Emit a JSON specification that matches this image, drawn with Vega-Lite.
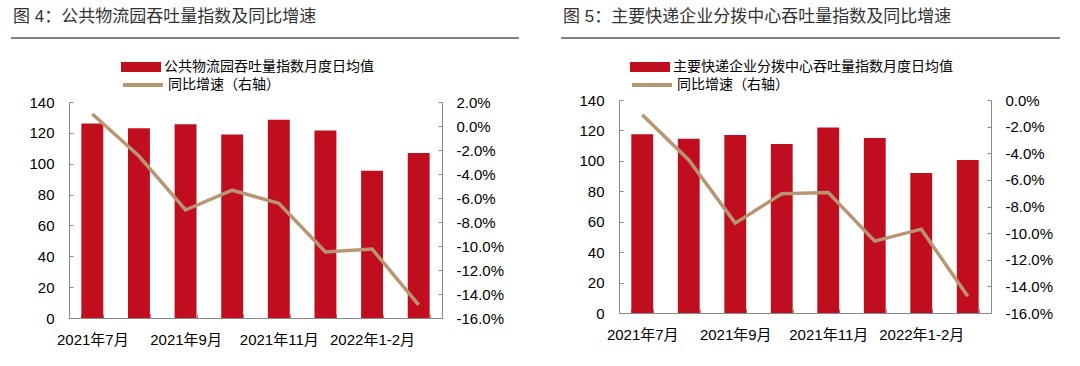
{
  "$schema": "https://vega.github.io/schema/vega-lite/v6.json",
  "background": "white",
  "padding": {"left": 10, "top": 8, "right": 5, "bottom": 5},
  "config": {
    "view": {"stroke": null},
    "font": "Liberation Sans, Noto Sans CJK SC",
    "axis": {"domainColor": "#898989", "tickColor": "#898989", "labelColor": "#000000", "labelFontSize": 15, "labelFont": "Liberation Sans, Noto Sans CJK SC", "grid": false, "title": null},
    "legend": {"padding": 0, "labelFontSize": 14, "labelFont": "Noto Sans CJK SC", "labelColor": "#000000", "labelLimit": 0, "title": null}
  },
  "datasets": {
    "p1": [
      {"month": "2021年7月", "idx": 126, "yoy": 1.0},
      {"month": "2021年8月", "idx": 123, "yoy": -2.5},
      {"month": "2021年9月", "idx": 125.5, "yoy": -7.0},
      {"month": "2021年10月", "idx": 119, "yoy": -5.35},
      {"month": "2021年11月", "idx": 128.5, "yoy": -6.45},
      {"month": "2021年12月", "idx": 121.5, "yoy": -10.5},
      {"month": "2022年1-2月", "idx": 95.5, "yoy": -10.25},
      {"month": "2022年3月", "idx": 107, "yoy": -14.9}
    ],
    "p2": [
      {"month": "2021年7月", "idx": 117.5, "yoy": -1.1},
      {"month": "2021年8月", "idx": 114.5, "yoy": -4.5},
      {"month": "2021年9月", "idx": 117, "yoy": -9.25},
      {"month": "2021年10月", "idx": 111, "yoy": -7.05},
      {"month": "2021年11月", "idx": 122, "yoy": -6.95},
      {"month": "2021年12月", "idx": 115, "yoy": -10.6},
      {"month": "2022年1-2月", "idx": 92, "yoy": -9.7},
      {"month": "2022年3月", "idx": 100.5, "yoy": -14.75}
    ],
    "hdr": [{"a": 0, "b": 1}]
  },
  "hconcat": [
    {
      "vconcat": [
        {
          "width": 373, "height": 0,
          "title": {"text": "图 4：公共物流园吞吐量指数及同比增速", "anchor": "start", "fontSize": 17, "fontWeight": "normal", "color": "#333333", "offset": 11, "dx": 3},
          "data": {"name": "hdr"},
          "mark": {"type": "rule", "color": "#808080", "strokeWidth": 2},
          "encoding": {
            "x": {"field": "a", "type": "quantitative", "scale": {"domain": [0, 1], "range": [-58, 450], "nice": false}, "axis": null},
            "x2": {"field": "b"},
            "y": {"value": 0}
          }
        },
        {
          "width": 373, "height": 216,
          "data": {"name": "p1"},
          "encoding": {
            "x": {"field": "month", "type": "nominal", "sort": null,
              "scale": {"type": "band", "paddingInner": 0.53, "paddingOuter": 0.265},
              "axis": {"labelAngle": 0, "tickBand": "extent", "tickSize": -4, "labelPadding": 18, "labelOverlap": false,
                "labelExpr": "indexof(['2021年7月','2021年9月','2021年11月','2022年1-2月'], datum.value) >= 0 ? datum.value : ''"}}
          },
          "layer": [
            {
              "mark": {"type": "bar"},
              "encoding": {
                "y": {"field": "idx", "type": "quantitative", "scale": {"domain": [0, 140], "nice": false},
                  "axis": {"values": [0, 20, 40, 60, 80, 100, 120, 140], "tickSize": -4, "labelPadding": 19, "minExtent": 58, "maxExtent": 58}},
                "fill": {"datum": "公共物流园吞吐量指数月度日均值", "type": "nominal", "scale": {"range": ["#C00E1E"]},
                  "legend": {"orient": "none", "legendX": 52, "legendY": -55, "symbolType": "M-1,-0.25H1V0.25H-1Z", "symbolSize": 1600, "symbolStrokeWidth": 0, "labelOffset": 3}}
              }
            },
            {
              "mark": {"type": "line", "strokeWidth": 3.5},
              "encoding": {
                "y": {"field": "yoy", "type": "quantitative", "scale": {"domain": [-16, 2], "nice": false},
                  "axis": {"orient": "right", "values": [-16, -14, -12, -10, -8, -6, -4, -2, 0, 2], "tickSize": -4, "labelPadding": 18, "minExtent": 77, "maxExtent": 77,
                    "labelExpr": "replace(format(datum.value, '.1f'), '−', '-') + '%'"}},
                "stroke": {"datum": "同比增速（右轴）", "type": "nominal", "scale": {"range": ["#B99673"]},
                  "legend": {"orient": "none", "legendX": 52, "legendY": -39, "symbolType": "stroke", "symbolSize": 1600, "symbolStrokeWidth": 4, "labelOffset": 3}}
              }
            }
          ],
          "resolve": {"scale": {"y": "independent", "fill": "independent", "stroke": "independent"}}
        }
      ],
      "spacing": -11
    },
    {
      "vconcat": [
        {
          "width": 372, "height": 0,
          "title": {"text": "图 5：主要快递企业分拨中心吞吐量指数及同比增速", "anchor": "start", "fontSize": 17, "fontWeight": "normal", "color": "#333333", "offset": 11, "dx": 3},
          "data": {"name": "hdr"},
          "mark": {"type": "rule", "color": "#808080", "strokeWidth": 2},
          "encoding": {
            "x": {"field": "a", "type": "quantitative", "scale": {"domain": [0, 1], "range": [-58, 441], "nice": false}, "axis": null},
            "x2": {"field": "b"},
            "y": {"value": 0}
          }
        },
        {
          "width": 372, "height": 213,
          "data": {"name": "p2"},
          "encoding": {
            "x": {"field": "month", "type": "nominal", "sort": null,
              "scale": {"type": "band", "paddingInner": 0.53, "paddingOuter": 0.265},
              "axis": {"labelAngle": 0, "tickBand": "extent", "tickSize": -4, "labelPadding": 18, "labelOverlap": false,
                "labelExpr": "indexof(['2021年7月','2021年9月','2021年11月','2022年1-2月'], datum.value) >= 0 ? datum.value : ''"}}
          },
          "layer": [
            {
              "mark": {"type": "bar"},
              "encoding": {
                "y": {"field": "idx", "type": "quantitative", "scale": {"domain": [0, 140], "nice": false},
                  "axis": {"values": [0, 20, 40, 60, 80, 100, 120, 140], "tickSize": -4, "labelPadding": 19, "minExtent": 58, "maxExtent": 58}},
                "fill": {"datum": "主要快递企业分拨中心吞吐量指数月度日均值", "type": "nominal", "scale": {"range": ["#C00E1E"]},
                  "legend": {"orient": "none", "legendX": 11, "legendY": -53, "symbolType": "M-1,-0.25H1V0.25H-1Z", "symbolSize": 1600, "symbolStrokeWidth": 0, "labelOffset": 3}}
              }
            },
            {
              "mark": {"type": "line", "strokeWidth": 3.5},
              "encoding": {
                "y": {"field": "yoy", "type": "quantitative", "scale": {"domain": [-16, 0], "nice": false},
                  "axis": {"orient": "right", "values": [-16, -14, -12, -10, -8, -6, -4, -2, 0], "tickSize": -4, "labelPadding": 18, "minExtent": 69, "maxExtent": 69,
                    "labelExpr": "replace(format(datum.value, '.1f'), '−', '-') + '%'"}},
                "stroke": {"datum": "同比增速（右轴）", "type": "nominal", "scale": {"range": ["#B99673"]},
                  "legend": {"orient": "none", "legendX": 11, "legendY": -37, "symbolType": "stroke", "symbolSize": 1600, "symbolStrokeWidth": 4, "labelOffset": 3}}
              }
            }
          ],
          "resolve": {"scale": {"y": "independent", "fill": "independent", "stroke": "independent"}}
        }
      ],
      "spacing": -11
    }
  ],
  "spacing": 40
}
